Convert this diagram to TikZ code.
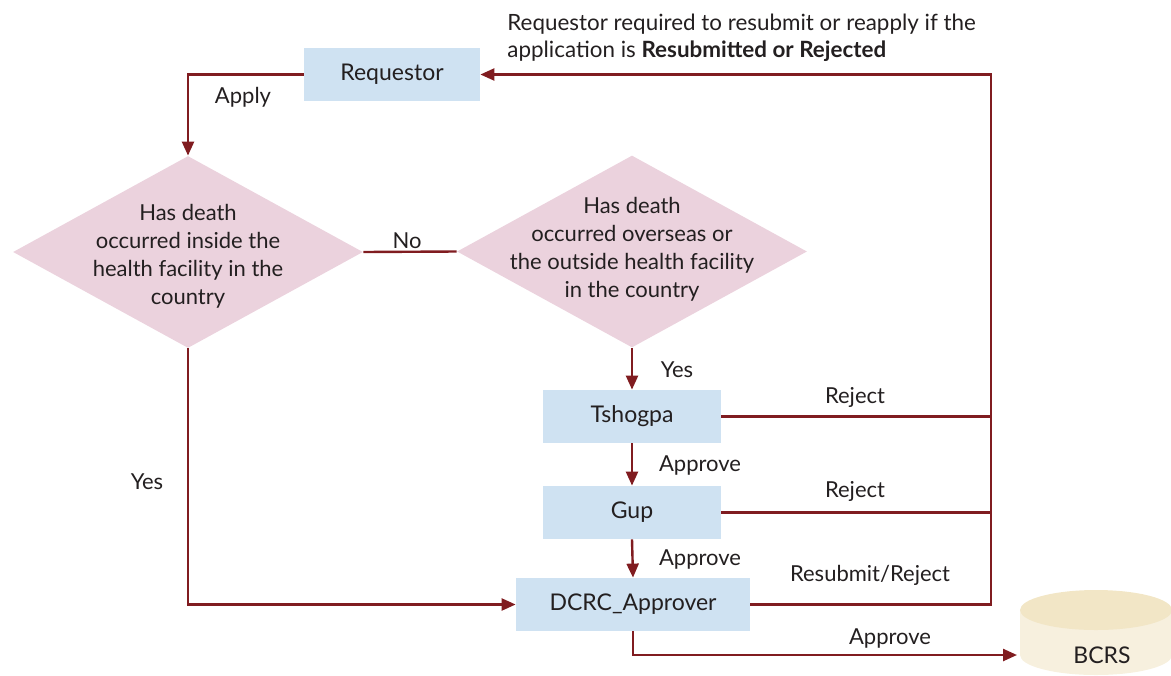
\documentclass[tikz,border=0pt]{standalone}
\usepackage{fontspec}
\setmainfont{Lato}
\usetikzlibrary{arrows.meta,shapes.geometric}
\definecolor{boxblue}{RGB}{207,226,242}
\definecolor{dpink}{RGB}{235,210,221}
\definecolor{lred}{RGB}{128,28,32}
\definecolor{txt}{RGB}{35,31,32}
\definecolor{cyltop}{RGB}{242,230,198}
\definecolor{cylbody}{RGB}{247,240,222}
\begin{document}
\begin{tikzpicture}[x=0.5pt,y=-0.5pt, font=\fontsize{11}{14}\selectfont, text=txt,
 proc/.style={fill=boxblue, minimum height=26.5pt, inner sep=0pt, font=\fontsize{11.5}{14}\selectfont},
 dec/.style={diamond, fill=dpink, inner sep=0pt, minimum width=175pt, minimum height=96pt},
 dectext/.style={align=center, inner sep=0pt},
 flow/.style={draw=lred, line width=1.2pt, -{Triangle[length=7pt,width=6pt]}},
 plain/.style={draw=lred, line width=1.2pt},
 lbl/.style={inner sep=0pt}]
\useasboundingbox (0,0) rectangle (1171,675);

% cylinder
\begin{scope}
\clip (0,0) rectangle (1171,675);
\fill[cylbody] (1020,610) rectangle (1172,655);
\fill[cylbody] (1096,655) ellipse [x radius=76, y radius=20];
\fill[cyltop] (1096,610) ellipse [x radius=76, y radius=20];
\end{scope}
\node[lbl, font=\fontsize{11.5}{14}\selectfont] (bcrs) at (1102,655) {BCRS};
\coordinate (bcrsin) at (1017,655);

\node[proc, minimum width=88pt] (req) at (392,74.5) {Requestor};
\node[dec] (d1) at (188,252) {};
\node[dectext] (d1t) at (188,256.5) {Has death\\occurred inside the\\health facility in the\\country};
\node[dec] (d2) at (632,251.5) {};
\node[dectext] (d2t) at (632,249) {Has death\\occurred overseas or\\the outside health facility\\in the country};
\node[proc, minimum width=89pt] (tsh) at (632,416.5) {Tshogpa};
\node[proc, minimum width=89pt] (gup) at (632,512.5) {Gup};
\node[proc, minimum width=117pt] (dcrc) at (633,604.5) {DCRC\_Approver};

\node[lbl, anchor=west, align=left, font=\fontsize{11.2}{13.5}\selectfont] (note) at (507,37.5)
 {Requestor required to resubmit or reapply if the\\application is \textbf{Resubmitted or Rejected}};

\coordinate (rtop) at (991,74.5);
\coordinate (rbot) at (991,604.5);

\draw[flow] (req.west) -| (d1.north);
\draw[plain] (d1.east) -- (d2.west);
\draw[flow] (d2.south) -- (tsh.north);
\draw[flow] (tsh.south) -- (gup.north);
\draw[flow] (gup.south) -- (dcrc.north);
\draw[flow] (d1.south) |- (dcrc.west);
\draw[flow] (dcrc.east) -- (rbot) -- (rtop) -- (req.east);
\draw[plain] (tsh.east) -- (tsh.east -| rtop);
\draw[plain] (gup.east) -- (gup.east -| rtop);
\draw[flow] (dcrc.south) |- (bcrsin);

\node[lbl] (lapply) at (243,97) {Apply};
\node[lbl] (lno) at (407,241) {No};
\node[lbl] (lyes1) at (147,482) {Yes};
\node[lbl] (lyes2) at (677,370) {Yes};
\node[lbl] (lap1) at (700,465) {Approve};
\node[lbl] (lap2) at (700,559) {Approve};
\node[lbl] (lrej1) at (855,397) {Reject};
\node[lbl] (lrej2) at (855,491) {Reject};
\node[lbl] (lres) at (870,575) {Resubmit/Reject};
\node[lbl] (lap3) at (890,638) {Approve};
\end{tikzpicture}
\end{document}
